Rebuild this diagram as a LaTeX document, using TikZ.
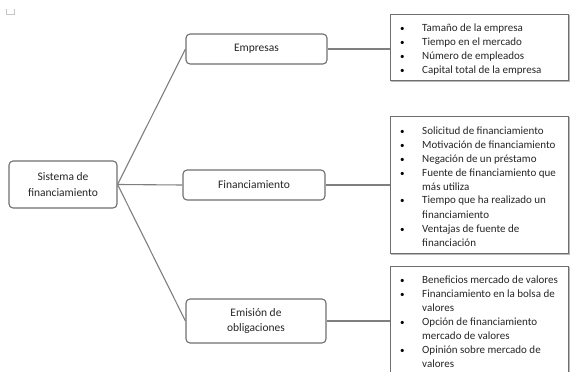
\documentclass[tikz,border=0pt]{standalone}
\usepackage{fontspec}
\setmainfont{Carlito}
\definecolor{linegray}{HTML}{7F7F7F}
\definecolor{boxgray}{HTML}{6F6F6F}
\definecolor{shadegray}{HTML}{B8B8B8}
\definecolor{txt}{HTML}{262626}
\tikzset{
  conn/.style={draw=linegray, line width=1.1pt},
  topic/.style={draw=boxgray, line width=1.1pt, rounded corners=4pt, fill=white,
    inner sep=0pt, align=center, text=txt, font=\fontsize{11.5}{15.5}\selectfont},
  listbox/.style={draw=boxgray, line width=1.1pt, fill=white, inner sep=0pt,
    anchor=north west, minimum width=178pt},
  shade/.style={draw=shadegray, line width=1.1pt},
  listtext/.style={anchor=base west, inner sep=0pt, text=txt,
    font=\fontsize{11}{14}\selectfont}
}
\newcommand{\bl}{\makebox[22pt][l]{\textcolor{black}{\small\textbullet}}}
\begin{document}
\begin{tikzpicture}[x=1pt,y=-1pt]
\useasboundingbox (0,0) rectangle (571,372);
\clip (0,0) rectangle (571,372);
\fill[white] (0,0) rectangle (571,372);
% small mark top-left
\draw[gray!45, line width=0.8pt] (6,9) -- (6,14) -- (14,14) -- (14,9);

% left topic boxes
\node[topic, minimum width=108pt, minimum height=47pt] (sis) at (63,184.5) {Sistema de\\financiamiento};
\node[topic, minimum width=141pt, minimum height=30pt] (emp) at (256.5,49) {Empresas};
\node[topic, minimum width=142pt, minimum height=30pt] (fin) at (254,185) {Financiamiento};
\node[topic, minimum width=140pt, minimum height=44pt, font=\fontsize{11.5}{15}\selectfont] (emi) at (256,321) {Emisión de\\obligaciones};

% list boxes (with light shade)
\draw[shade] (391.5,15.5) rectangle (569.5,81.5);
\draw[shade] (391.5,117.5) rectangle (569.5,254.5);
\draw[shade] (391.5,267.5) rectangle (569.5,390);
\node[listbox, minimum height=66pt] (l1) at (390,14) {};
\node[listbox, minimum height=137pt] (l2) at (390,116) {};
\node[listbox, minimum height=124pt] (l3) at (390,266) {};

% connectors
\draw[conn] (sis.east) -- (emp.west);
\draw[conn] (sis.east) -- (fin.west);
\draw[conn] (sis.east) -- (emi.west);
\draw[conn] (emp.east) -- (emp.east -| l1.west);
\draw[conn] (fin.east) -- (fin.east -| l2.west);
\draw[conn] (emi.east) -- (emi.east -| l3.west);

% list texts
\node[listtext] (t1) at (400,31.5) {\begin{tabular}[t]{@{}l@{}l@{}}
\bl & Tamaño de la empresa\\
\bl & Tiempo en el mercado\\
\bl & Número de empleados\\
\bl & Capital total de la empresa
\end{tabular}};
\node[listtext] (t2) at (400,134) {\begin{tabular}[t]{@{}l@{}l@{}}
\bl & Solicitud de financiamiento\\
\bl & Motivación de financiamiento\\
\bl & Negación de un préstamo\\
\bl & Fuente de financiamiento que\\
    & más utiliza\\
\bl & Tiempo que ha realizado un\\
    & financiamiento\\
\bl & Ventajas de fuente de\\
    & financiación
\end{tabular}};
\node[listtext] (t3) at (400,283) {\begin{tabular}[t]{@{}l@{}l@{}}
\bl & Beneficios mercado de valores\\
\bl & Financiamiento en la bolsa de\\
    & valores\\
\bl & Opción de financiamiento\\
    & mercado de valores\\
\bl & Opinión sobre mercado de\\
    & valores
\end{tabular}};
\end{tikzpicture}
\end{document}
